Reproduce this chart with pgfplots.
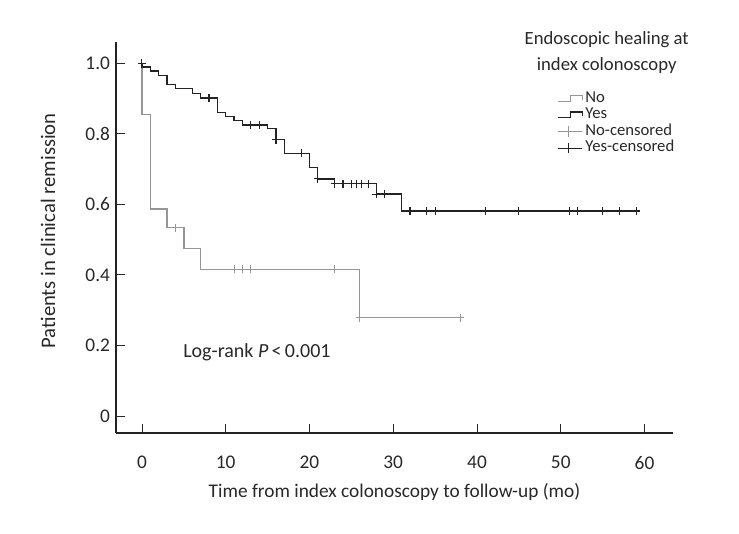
\documentclass[border=0pt]{standalone}
\usepackage{fontspec}
\setmainfont{Carlito}
\usepackage{pgfplots}
\pgfplotsset{compat=1.18}
\definecolor{noC}{RGB}{150,150,150}
\definecolor{yesC}{RGB}{35,35,35}
\definecolor{txtC}{RGB}{40,40,40}
\pgfplotsset{
  steplegend/.style={legend image code/.code={
      \draw[##1] (0pt,-2pt) -- (9pt,-2pt) -- (9pt,2.3pt) -- (18pt,2.3pt) -- (18pt,-0.8pt);}},
  censlegend/.style={legend image code/.code={
      \draw[##1] (0pt,0pt) -- (18pt,0pt) (8pt,-4pt) -- (8pt,4pt);}},
}
\begin{document}
\begin{tikzpicture}
\begin{axis}[
    scale only axis, clip=false,
    width=417.75pt, height=293.25pt,
    xmin=-3.1, xmax=63.4,
    ymin=-0.048, ymax=1.06,
    axis x line=bottom, axis y line=left,
    axis line style={-, yesC, line width=0.9pt},
    tick align=inside,
    major tick length=7pt,
    tick style={txtC, line width=0.6pt},
    xtick={0,10,20,30,40,50,60},
    xticklabels={0,10,20,30,40,50,60},
    ytick={0,0.2,0.4,0.6,0.8,1},
    yticklabels={0,0.2,0.4,0.6,0.8,1.0},
    ticklabel style={font=\fontsize{14.5}{16}\selectfont, text=txtC},
    xticklabel style={yshift=-14pt},
    yticklabel style={xshift=-1pt},
    xlabel={Time from index colonoscopy to follow-up (mo)},
    ylabel={Patients in clinical remission},
    label style={font=\fontsize{14.5}{16}\selectfont, text=txtC},
    xlabel style={at={(axis description cs:0.5,-0.151)}, anchor=center},
    ylabel style={at={(axis description cs:-0.122,0.517)}, anchor=center, font=\fontsize{15.5}{17}\selectfont},
    legend style={at={(0.785,0.884)}, anchor=north west, draw=none, fill=none,
      font=\fontsize{12.5}{14}\selectfont, text=txtC, row sep=0pt,
      nodes={inner ysep=0pt, text height=9pt, text depth=3.4pt}},
    legend cell align=left,
  ]
  % No
  \addplot[const plot, noC, line width=1pt, forget plot] coordinates {
    (0,1) (0,0.855) (1,0.587) (3,0.534) (5,0.474) (7,0.416) (26,0.279) (38,0.279)};
  \addplot[only marks, mark=+, mark size=3pt, noC, mark options={line width=0.8pt}, forget plot] coordinates {
    (4,0.534) (11,0.416) (12,0.416) (13,0.416) (23,0.416) (26,0.279) (38,0.279)};
  % Yes
  \addplot[const plot, yesC, line width=0.9pt, forget plot] coordinates {
    (0,1) (0,0.989) (1,0.978) (2,0.964) (3,0.940) (4,0.928) (6,0.913) (7,0.901)
    (9,0.861) (10,0.849) (11,0.837) (12,0.825) (15,0.814) (16,0.783) (17,0.745)
    (20,0.704) (21,0.672) (23,0.658) (28,0.629) (31,0.581) (59,0.581)};
  \addplot[only marks, mark=+, mark size=3pt, yesC, mark options={line width=0.8pt}, forget plot] coordinates {
    (0,1) (8,0.901) (13,0.825) (14,0.825) (16,0.783) (19,0.745) (21,0.672)
    (23,0.658) (24,0.658) (25,0.658) (25.6,0.658) (26.2,0.658) (27,0.658)
    (28,0.629) (29,0.629) (32,0.581) (34,0.581) (35,0.581) (41,0.581) (45,0.581)
    (51,0.581) (52,0.581) (55,0.581) (57,0.581) (59,0.581)};
  \addlegendimage{noC, line width=0.9pt, steplegend}
  \addlegendentry{No}
  \addlegendimage{yesC, line width=0.9pt, steplegend}
  \addlegendentry{Yes}
  \addlegendimage{noC, line width=0.8pt, censlegend}
  \addlegendentry{No-censored}
  \addlegendimage{yesC, line width=0.8pt, censlegend}
  \addlegendentry{Yes-censored}
  \node[anchor=west, inner sep=0pt, font=\fontsize{15}{17}\selectfont, text=txtC] at (axis cs:4.9,0.18)
    {Log-rank \textit{P}\,<\,0.001};
  \node[align=center, font=\fontsize{14}{19}\selectfont, text=txtC]
    at (rel axis cs:0.881,0.973) {Endoscopic healing at\\index colonoscopy};
\end{axis}
\path (-87pt,-75.75pt) rectangle (467.25pt,324.75pt);
\end{tikzpicture}
\end{document}
